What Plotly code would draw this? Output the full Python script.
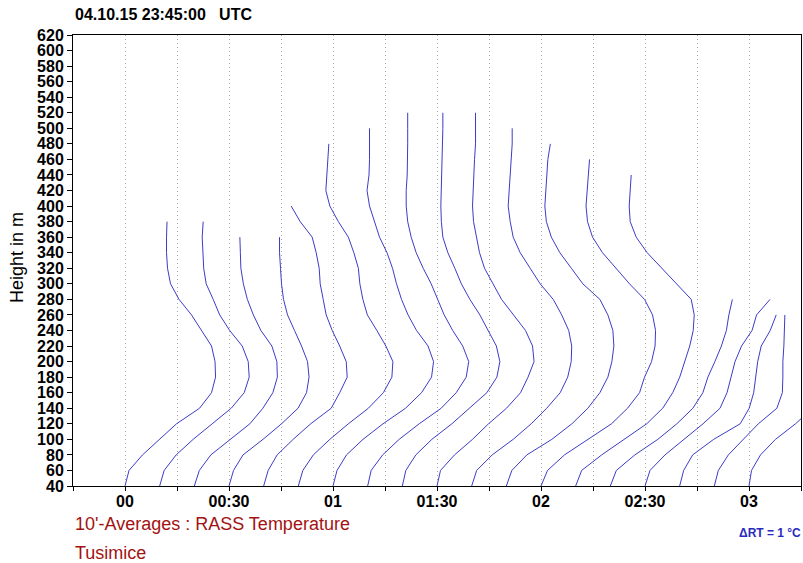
import plotly.graph_objects as go

# ---------------- data ----------------
HEIGHTS = [40, 60, 80, 100, 120, 140, 160, 180, 200, 220, 240, 260, 280,
           300, 320, 340, 360, 380, 400, 420, 440, 460, 480, 500, 520]

# profile start times (minutes after 00:00 UTC)
START_MIN = [0, 10, 20, 30, 40, 50, 60, 70, 80, 90, 100, 110, 120,
             130, 140, 150, 160, 170, 180]

# RASS temperature deviation (°C) from lowest gate, per height level
dT_0000 = [0, .08, .35, .68, 1.03, 1.49, 1.73, 1.81, 1.80, 1.73, 1.53, 1.33, 1.08, .91, .85, .83, .83, .84]
dT_0010 = [0, .09, .33, .67, 1.05, 1.43, 1.69, 1.79, 1.77, 1.65, 1.40, 1.20, 1.07, .93, .88, .87, .85, .87]
dT_0020 = [0, .10, .33, .71, 1.11, 1.37, 1.57, 1.66, 1.65, 1.55, 1.33, 1.18, 1.06, .98, .93, .92, .91]
dT_0030 = [0, .09, .28, .68, 1.05, 1.38, 1.55, 1.60, 1.57, 1.45, 1.31, 1.17, 1.09, 1.05, 1.03, 1.01, 1.01]
dT_0040 = [0, .09, .27, .59, .94, 1.35, 1.52, 1.67, 1.65, 1.52, 1.37, 1.25, 1.19, 1.13, 1.11, 1.05, .97, .73, .55]
dT_0050 = [0, .09, .30, .63, 1.00, 1.40, 1.70, 1.87, 1.89, 1.75, 1.57, 1.38, 1.29, 1.23, 1.20, 1.11, 1.00, .80, .63, .55, .57, .59, .61]
dT_0100 = [0, .08, .27, .60, 1.00, 1.45, 1.77, 1.97, 2.01, 1.90, 1.67, 1.50, 1.37, 1.27, 1.19, 1.08, .93, .83, .73, .68, .72, .73, .73, .73]
dT_0110 = [0, .07, .30, .63, 1.03, 1.47, 1.77, 1.97, 2.02, 1.90, 1.70, 1.53, 1.40, 1.27, 1.11, .97, .87, .80, .77, .77, .79, .80, .80, .80, .80]
dT_0120 = [0, .07, .27, .59, .99, 1.33, 1.69, 1.89, 1.95, 1.88, 1.71, 1.55, 1.35, 1.18, 1.05, .91, .81, .78, .77, .78, .79, .80, .81, .81, .81]
dT_0130 = [0, .07, .35, .71, 1.03, 1.39, 1.67, 1.82, 1.94, 1.91, 1.77, 1.53, 1.29, 1.12, .95, .85, .79, .73, .71, .72, .73, .75, .77, .77, .77]
dT_0140 = [0, .10, .41, .83, 1.19, 1.50, 1.77, 1.92, 1.99, 2.00, 1.94, 1.80, 1.63, 1.37, 1.17, .97, .83, .77, .73, .75, .77, .79, .81, .81]
dT_0150 = [0, .11, .41, .91, 1.31, 1.63, 1.87, 2.03, 2.11, 2.15, 2.13, 2.03, 1.87, 1.53, 1.30, 1.07, .90, .80, .77, .79, .80, .83, .88]
dT_0200 = [0, .13, .47, .93, 1.41, 1.73, 1.97, 2.07, 2.21, 2.28, 2.29, 2.23, 2.07, 1.77, 1.50, 1.23, 1.03, .93, .90, .92, .95, .97]
dT_0210 = [0, .12, .52, .98, 1.42, 1.74, 1.94, 2.08, 2.18, 2.28, 2.35, 2.37, 2.31, 2.01, 1.72, 1.43, 1.21, 1.09, 1.07, 1.09, 1.11]
dT_0220 = [0, .12, .49, .95, 1.33, 1.65, 1.85, 1.95, 2.09, 2.22, 2.32, 2.37, 2.44]
dT_0230 = [0, .10, .40, .77, 1.16, 1.50, 1.64, 1.72, 1.80, 1.93, 2.14, 2.23, 2.50]
dT_0240 = [0, .08, .26, .68, 1.21, 1.39, 1.48, 1.52, 1.56, 1.63, 1.81, 1.93]
dT_0250 = [0, .08, .28, .57, .88, 1.25, 1.36, 1.37, 1.37, 1.39, 1.40, 1.41]
dT_0300 = [0, .05, .23, .53, .93, 1.27]

PROFILES = [dT_0000, dT_0010, dT_0020, dT_0030, dT_0040, dT_0050, dT_0100,
            dT_0110, dT_0120, dT_0130, dT_0140, dT_0150, dT_0200, dT_0210,
            dT_0220, dT_0230, dT_0240, dT_0250, dT_0300]

MIN_PER_DEG = 14.43          # horizontal scale: 1 °C shown as this many minutes
X_TICKS = [0, 30, 60, 90, 120, 150, 180]
X_TICK_TEXT = ["00", "00:30", "01", "01:30", "02", "02:30", "03"]
X_MINOR = [-15, 15, 45, 75, 105, 135, 165, 195]
Y_TICKS = list(range(40, 621, 20))
ARROW_START = 154.6

LINE_COLOR = "#3c3cc6"
GRID_COLOR = "#a8a8a8"
FONT = "Liberation Sans, Arial, Helvetica, sans-serif"

fig = go.Figure()
for t0, prof in zip(START_MIN, PROFILES):
    xs = [t0 + d * MIN_PER_DEG for d in prof]
    ys = HEIGHTS[:len(prof)]
    fig.add_trace(go.Scatter(x=xs, y=ys, mode="lines",
                             line=dict(color=LINE_COLOR, width=1),
                             hoverinfo="skip", showlegend=False))

# scale arrow (1 °C)
ARROW_Y = -20.4
fig.add_shape(type="line", xref="x", yref="y",
              x0=ARROW_START, x1=ARROW_START + MIN_PER_DEG,
              y0=ARROW_Y, y1=ARROW_Y, line=dict(color="#6a6ad6", width=1))
fig.add_trace(go.Scatter(x=[ARROW_START, ARROW_START + MIN_PER_DEG], y=[ARROW_Y, ARROW_Y],
                         mode="markers", marker=dict(size=3, color="#3c3cc6"),
                         cliponaxis=False, hoverinfo="skip", showlegend=False))

fig.update_layout(
    width=803, height=563,
    margin=dict(l=73, r=2, t=35, b=77, autoexpand=False),
    paper_bgcolor="white", plot_bgcolor="white",
    font=dict(family=FONT, color="black", size=14),
    showlegend=False,
)
fig.update_xaxes(
    range=[-15, 195], tickmode="array", tickvals=X_TICKS, ticktext=X_TICK_TEXT,
    ticks="outside", ticklen=4, tickcolor="black",
    tickfont=dict(size=16, weight="bold"), ticklabelstandoff=-3,
    showline=True, linecolor="black", linewidth=1, mirror=True,
    showgrid=True, gridcolor=GRID_COLOR, griddash="1px,3px", gridwidth=1,
    zeroline=False, automargin=False,
    minor=dict(tickmode="array", tickvals=X_MINOR, ticks="outside", ticklen=4,
               tickcolor="black", showgrid=True, gridcolor=GRID_COLOR,
               griddash="1px,3px", gridwidth=1),
)
fig.update_yaxes(
    range=[40, 620], tickmode="array", tickvals=Y_TICKS,
    ticks="outside", ticklen=5, tickcolor="black",
    tickfont=dict(size=16, weight="bold"),
    showline=True, linecolor="black", linewidth=1, mirror=True,
    showgrid=False, zeroline=False, automargin=False,
)

annots = [
    dict(text="04.10.15 23:45:00\u00a0\u00a0 UTC", x=0, y=15, xanchor="left",
         font=dict(size=16, color="black", weight="bold")),
    dict(text="10'-Averages : RASS Temperature", x=0, y=524, xanchor="left",
         font=dict(size=18, color="#a31212")),
    dict(text="Tusimice", x=0, y=553, xanchor="left",
         font=dict(size=18, color="#a31212")),
    dict(text="\u0394RT = 1 \u00b0C", x=737 - 73, y=533, xanchor="left",
         font=dict(size=12, color="#2a2ac0", weight="bold")),
]
for a in annots:
    fig.add_annotation(text=a["text"], xref="paper", yref="paper",
                       x=a["x"] / 728, y=(486 - a["y"]) / 451,
                       xanchor=a["xanchor"], yanchor="middle",
                       showarrow=False, font=a["font"])
fig.add_annotation(text="Height in m", xref="paper", yref="paper",
                   x=(17 - 73) / 728, y=(486 - 258) / 451, textangle=-90,
                   xanchor="center", yanchor="middle", showarrow=False,
                   font=dict(size=18, color="black"))

fig.write_html("out.html", config={"displayModeBar": False},
               post_script="document.body.style.margin='0px';")
